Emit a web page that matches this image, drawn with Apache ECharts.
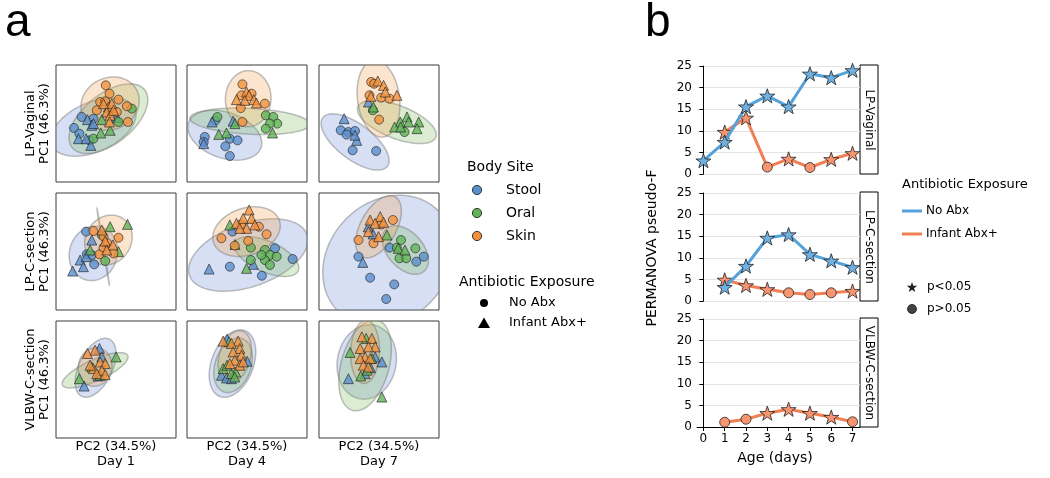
<!DOCTYPE html>
<html><head><meta charset="utf-8">
<script src="https://cdn.jsdelivr.net/npm/echarts@6/dist/echarts.min.js"></script>
<style>html,body{margin:0;padding:0;background:#fff}#c{width:1050px;height:478px}</style>
</head><body><div id="c"></div>
<script>
// ---------- labels ----------
const rowNames = ['LP-Vaginal', 'LP-C-section', 'VLBW-C-section'];
const dayLabels = ['Day 1', 'Day 4', 'Day 7'];
const pcX = 'PC2 (34.5%)';
const pcY = 'PC1 (46.3%)';
const siteNames = ['Stool', 'Oral', 'Skin'];
const abxNames = ['No Abx', 'Infant Abx+'];
const sigNames = ['p<0.05', 'p>0.05'];

// ---------- panel a: PCoA points [PC2, PC1, site(0 stool,1 oral,2 skin), abx(0 none,1 infant abx)] ----------
const LPV_D1 = [
 [-2.86,0.56,0,0],[-3.5,-0.38,0,0],[-3.05,-0.87,0,0],[-1.88,0.41,0,0],[-2.21,-1.44,0,0],
 [-2.38,0.33,0,1],[-2.02,-0.16,0,1],[-3.13,-1.3,0,1],[-2.49,-1.3,0,1],[-2.1,-1.87,0,1],[-1.88,0.0,0,1],[0.07,0.5,0,1],
 [1.32,1.27,1,0],[0.21,0.13,1,0],[-1.88,-1.3,1,0],
 [-1.18,0.33,1,1],[-0.49,-0.58,1,1],[-1.27,-0.81,1,1],
 [-0.85,3.26,2,0],[-0.54,2.55,2,0],[0.21,2.04,2,0],[-1.32,1.84,2,0],[0.91,1.47,2,0],[-1.6,1.13,2,0],[0.99,0.13,2,0],[-0.9,1.9,2,0],[0.07,0.98,2,0],
 [-0.63,1.41,2,1],[-0.35,1.7,2,1],[-0.77,0.98,2,1],[-0.49,0.7,2,1],[-0.54,0.13,2,1],[-0.21,1.13,2,1],[-1.04,1.7,2,1]
];
const LPV_D4 = [
 [-2.63,0.27,0,0],[-3.52,-1.15,0,0],[-3.61,-1.58,0,0],[-1.43,-1.3,0,0],[-0.79,-1.44,0,0],[-1.8,-1.95,0,0],[-1.43,-2.78,0,0],
 [-2.91,0.13,0,1],[-3.61,-1.72,0,1],[-1.16,0.2,0,1],
 [-2.47,0.56,1,0],[1.57,0.7,1,0],[2.19,0.56,1,0],[2.52,-0.01,1,0],[1.91,-0.01,1,0],[1.57,-0.44,1,0],
 [2.13,-0.81,1,1],[-1.71,-0.81,1,1],[-2.35,-0.93,1,1],[-1.0,-0.01,1,1],
 [-0.38,3.35,2,0],[-0.46,2.41,2,0],[1.49,1.7,2,0],[-0.52,1.32,2,0],[-0.38,0.13,2,0],[0.38,2.55,2,0],
 [-0.04,2.69,2,1],[0.18,2.41,2,1],[0.57,2.04,2,1],[-0.18,1.98,2,1],[0.79,1.75,2,1],[-0.88,2.04,2,1]
];
const LPV_D7 = [
 [-3.19,-0.58,0,0],[-2.55,-0.73,0,0],[-2.0,-0.64,0,0],[-2.2,-2.29,0,0],[-0.24,-2.35,0,0],[-2.7,-0.95,0,0],
 [-2.91,0.41,0,1],[-1.86,-1.44,0,1],[-2.0,-1.0,0,1],[-0.88,1.84,0,1],
 [-0.51,1.13,1,0],[2.13,-0.73,1,0],
 [-0.46,1.41,1,1],[2.33,0.56,1,1],[2.47,0.13,1,1],[1.77,0.13,1,1],[1.3,-0.3,1,1],[3.31,0.13,1,1],[3.17,-0.44,1,1],[1.8,-0.3,1,1],
 [-0.65,3.55,2,0],[-0.79,2.41,2,0],[0.18,2.21,2,0],[0.88,2.12,2,0],[0.01,0.33,2,0],[-0.4,3.4,2,0],
 [-0.1,3.63,2,1],[0.38,3.26,2,1],[0.52,2.69,2,1],[1.49,2.41,2,1],[-0.68,2.32,2,1]
];
const LPC_D1 = [
 [-2.49,1.7,0,0],[-2.44,-0.24,0,0],[-1.82,-1.1,0,0],[-2.02,-0.3,0,0],
 [-2.02,0.98,0,1],[-2.99,-0.73,0,1],[-2.72,-1.3,0,1],[-3.61,-1.67,0,1],[-2.49,-0.44,0,1],
 [-0.9,-0.81,1,0],[-1.18,1.41,1,0],
 [0.96,2.32,1,1],[-0.49,2.12,1,1],[0.21,-0.01,1,1],[-2.16,0.13,1,1],
 [0.21,1.18,2,0],[-1.88,1.75,2,0],[-1.04,1.27,2,0],[-1.38,-0.24,2,0],[-0.21,-0.16,2,0],[-1.04,0.33,2,0],[-0.71,0.7,2,0],
 [-1.18,1.84,2,1],[-0.9,0.9,2,1],[-0.26,0.56,2,1],[-0.77,0.13,2,1]
];
const LPC_D4 = [
 [-1.21,1.7,0,0],[2.33,0.27,0,0],[3.8,-0.64,0,0],[-1.43,-1.3,0,0],[1.24,-2.07,0,0],
 [-3.16,-1.5,0,1],[0.52,-1.1,0,1],
 [0.32,0.33,1,0],[1.49,0.13,1,0],[1.91,-0.3,1,0],[2.47,-0.44,1,0],[1.49,-0.73,1,0],[1.91,-1.15,1,0],[0.32,-0.73,1,0],[1.2,-0.3,1,0],
 [-1.43,2.27,1,1],[-0.04,-1.44,1,1],[-1.0,0.6,1,1],
 [-2.13,1.13,2,0],[0.99,2.12,2,0],[1.63,1.47,2,0],[0.1,0.9,2,0],[-1.02,0.5,2,0],[-0.5,2.3,2,0],
 [0.18,3.55,2,1],[-0.32,2.83,2,1],[0.38,2.83,2,1],[-0.88,2.41,2,1],[-0.04,1.98,2,1],[0.65,2.27,2,1],[-0.6,1.98,2,1]
];
const LPC_D7 = [
 [-1.71,-0.44,0,0],[-0.74,-2.24,0,0],[1.27,-2.81,0,0],[0.6,-4.06,0,0],[3.11,-0.87,0,0],[3.73,-0.44,0,0],[0.88,0.33,0,0],
 [-1.35,-0.93,0,1],[-0.5,1.5,0,1],[-0.9,2.1,0,1],
 [1.83,0.98,1,0],[3.03,0.27,1,0],[1.71,-0.58,1,0],[2.27,-0.58,1,0],[1.49,0.33,1,0],
 [0.66,1.41,1,1],[1.6,0.27,1,1],[2.16,0.13,1,1],
 [-1.71,0.98,2,0],[-0.46,0.7,2,0],[1.16,2.69,2,0],[0.2,2.3,2,0],
 [-0.74,2.69,2,1],[0.1,2.98,2,1],[-0.32,2.41,2,1],[0.38,2.5,2,1],[-0.88,1.7,2,1],[-0.04,1.27,2,1]
];
const VLBW_D1 = [
 [-1.38,2.65,0,1],[-1.18,1.93,0,1],[-2.66,-0.56,0,1],[-1.5,0.3,0,1],
 [0.01,1.93,1,1],[-3.05,0.07,1,1],[-2.02,1.07,1,1],[-1.32,0.36,1,1],
 [-2.38,2.22,2,1],[-1.74,2.51,2,1],[-1.32,1.5,2,1],[-0.9,1.36,2,1],[-1.88,0.93,2,1],[-1.18,0.79,2,1],[-1.6,0.5,2,1],[-0.9,0.42,2,1],[-2.16,1.22,2,1]
];
const VLBW_D4 = [
 [-1.66,3.45,0,1],[0.01,1.56,0,1],[-2.13,0.36,0,1],[-1.71,0.13,0,1],[-1.3,0.07,0,1],
 [-1.49,3.22,1,1],[-1.99,0.93,1,1],[-0.94,0.64,1,1],[-1.3,0.5,1,1],[-1.66,1.22,1,1],[-1.02,0.21,1,1],
 [-1.99,3.28,2,1],[-0.74,3.28,2,1],[-1.3,3.08,2,1],[-0.6,2.65,2,1],[-1.16,2.36,2,1],[-0.46,2.08,2,1],[-1.02,1.65,2,1],[-0.6,1.22,2,1],[-1.43,1.36,2,1],[-0.32,1.5,2,1]
];
const VLBW_D7 = [
 [-2.55,0.07,0,1],[0.24,1.5,0,1],[-1.16,0.5,0,1],[-0.32,1.93,0,1],[-0.7,1.0,0,1],
 [-2.41,2.31,1,1],[-1.07,3.51,1,1],[0.24,-1.5,1,1],[-1.52,0.3,1,1],[-0.6,1.79,1,1],[-1.0,0.8,1,1],
 [-1.43,3.65,2,1],[-0.6,3.51,2,1],[-0.32,2.79,2,1],[-1.57,2.65,2,1],[-0.88,2.79,2,1],[-1.16,1.93,2,1],[-1.57,1.79,2,1],[-0.74,1.79,2,1],[-1.3,1.22,2,1],[-0.88,1.07,2,1]
];

// confidence ellipses [site, centreX, centreY, semiMajor, semiMinor, angleDeg]
const ELL_LPV_D1 = [[0,-1.88,-0.3,3.8,2.1,25],[1,-0.63,0.41,3.9,2.1,40],[2,-0.49,1.7,2.5,2.2,30]];
const ELL_LPV_D4 = [[0,-1.85,-1.0,3.2,1.95,-20],[1,0.24,0.19,5.0,1.1,-3],[2,0.1,2.12,2.4,1.9,88]];
const ELL_LPV_D7 = [[0,-1.99,-1.58,3.4,1.5,-38],[1,1.49,0.13,3.5,1.4,-22],[2,-0.04,2.12,3.3,1.75,97]];
const ELL_LPC_D1 = [[0,-1.88,-0.16,2.35,2.0,75],[1,-1.07,0.41,3.3,0.04,99],[2,-0.63,0.98,2.2,1.9,60]];
const ELL_LPC_D4 = [[0,0.1,-0.3,5.2,2.7,20],[1,1.63,-0.44,2.9,1.3,-25],[2,-0.04,1.7,2.9,2.0,20]];
const ELL_LPC_D7 = [[0,0.75,-0.8,6.0,5.0,50],[1,2.19,0.13,2.4,1.5,-50],[2,-0.04,2.12,2.9,1.5,62]];
const ELL_VLBW_D1 = [[0,-1.7,1.0,2.7,1.4,65],[1,-1.74,0.79,3.0,0.9,25],[2,-1.74,1.07,1.65,1.4,80]];
const ELL_VLBW_D4 = [[0,-1.21,1.36,3.0,1.75,70],[1,-1.16,1.22,2.4,1.5,72],[2,-1.02,1.93,2.3,1.3,75]];
const ELL_VLBW_D7 = [[0,-1.02,1.5,3.2,2.45,80],[1,-1.16,1.22,4.0,2.0,75],[2,-1.16,2.36,2.7,1.2,88]];

// ---------- panel b: PERMANOVA pseudo-F ----------
const days = [0, 1, 2, 3, 4, 5, 6, 7];
const vagNoAbx    = [3.1, 7.4, 15.6, 18.1, 15.6, 23.2, 22.3, 24.0];
const vagNoAbxSig = [1, 1, 1, 1, 1, 1, 1, 1];
const vagAbx      = [null, 9.7, 13.0, 1.6, 3.5, 1.5, 3.4, 4.8];
const vagAbxSig   = [0, 1, 1, 0, 1, 0, 1, 1];
const csNoAbx     = [null, 3.2, 8.1, 14.6, 15.4, 10.8, 9.3, 7.8];
const csNoAbxSig  = [0, 1, 1, 1, 1, 1, 1, 1];
const csAbx       = [null, 4.9, 3.6, 2.7, 1.9, 1.5, 1.9, 2.3];
const csAbxSig    = [0, 1, 1, 1, 0, 0, 0, 1];
const vlbwAbx     = [null, 1.1, 1.8, 3.2, 4.1, 3.2, 2.3, 1.2];
const vlbwAbxSig  = [0, 0, 0, 1, 1, 1, 1, 0];

// ---------- styles ----------
const FONT = 'DejaVu Sans';
const siteColors = ['#5a8fcd', '#62b357', '#f2913d'];
const ellFill = ['rgba(120,150,215,0.30)', 'rgba(110,180,80,0.25)', 'rgba(245,160,80,0.28)'];
const blueLine = '#55a1d9', blueMark = '#6fb2e2', orangeLine = '#f07f55', orangeMark = '#f6956f';
const STAR = 'path://M50,0 L61.8,35.1 L98.1,35.1 L68.8,56.7 L79.4,91.0 L50,70 L20.6,91.0 L31.2,56.7 L1.9,35.1 L38.2,35.1 Z';

const panelsPts = [LPV_D1, LPV_D4, LPV_D7, LPC_D1, LPC_D4, LPC_D7, VLBW_D1, VLBW_D4, VLBW_D7];
const panelsEll = [ELL_LPV_D1, ELL_LPV_D4, ELL_LPV_D7, ELL_LPC_D1, ELL_LPC_D4, ELL_LPC_D7, ELL_VLBW_D1, ELL_VLBW_D4, ELL_VLBW_D7];

const aLeft = [56, 187, 319], aTop = [65, 193, 321], aW = 120, aH = 117;
const bLeft = 697, bW = 163, bTop = [66, 193, 319], bH = 108;

const grids = [], xAxes = [], yAxes = [], series = [], graphics = [];
const txt = (x, y, text, size, opts) => Object.assign({ type: 'text', x, y, silent: true,
  style: { text, font: size + 'px "' + FONT + '"', fill: '#000', align: (opts && opts.align) || 'center', verticalAlign: 'middle' } },
  opts && opts.rotation != null ? { rotation: opts.rotation } : {});

function ellipseRender(params, api) {
  const s = api.value(0), cx = api.value(1), cy = api.value(2), a = api.value(3), b = api.value(4);
  const ang = api.value(5) * Math.PI / 180;
  const pts = [];
  for (let k = 0; k < 90; k++) {
    const t = k / 90 * 2 * Math.PI;
    const x = cx + a * Math.cos(t) * Math.cos(ang) - b * Math.sin(t) * Math.sin(ang);
    const y = cy + a * Math.cos(t) * Math.sin(ang) + b * Math.sin(t) * Math.cos(ang);
    pts.push(api.coord([x, y]));
  }
  return { type: 'polygon', shape: { points: pts },
    style: { fill: ellFill[s], stroke: 'rgba(115,115,115,0.45)', lineWidth: 1.5 } };
}

for (let r = 0; r < 3; r++) for (let c = 0; c < 3; c++) {
  const i = r * 3 + c;
  grids.push({ left: aLeft[c], top: aTop[r], width: aW, height: aH, show: true,
    borderColor: '#3a3a3a', borderWidth: 1, backgroundColor: 'rgba(0,0,0,0)' });
  xAxes.push({ gridIndex: i, type: 'value', min: -5, max: 5, show: false });
  yAxes.push({ gridIndex: i, type: 'value', min: -5, max: 5, show: false });
  series.push({ type: 'custom', xAxisIndex: i, yAxisIndex: i, clip: true, silent: true, z: 1,
    renderItem: ellipseRender, encode: { x: 1, y: 2 }, data: panelsEll[i] });
  series.push({ type: 'scatter', xAxisIndex: i, yAxisIndex: i, z: 3, silent: true,
    data: panelsPts[i].map(p => ({ value: [p[0], p[1]], symbol: p[3] ? 'triangle' : 'circle',
      symbolSize: p[3] ? 10 : 9,
      itemStyle: { color: siteColors[p[2]], borderColor: '#222', borderWidth: 0.8 } })) });
}

// panel a axis titles
for (let c = 0; c < 3; c++) {
  const cx = aLeft[c] + aW / 2;
  graphics.push(txt(cx, 447, pcX, 13));
  graphics.push(txt(cx, 462, dayLabels[c], 13));
}
for (let r = 0; r < 3; r++) {
  const cy = aTop[r] + aH / 2;
  graphics.push(txt(31, cy, rowNames[r], 13, { rotation: Math.PI / 2 }));
  graphics.push(txt(45, cy, pcY, 13, { rotation: Math.PI / 2 }));
}

// panel a legend
graphics.push(txt(467, 167, 'Body Site', 14, { align: 'left' }));
[190, 213, 236].forEach((yy, k) => {
  graphics.push({ type: 'circle', shape: { cx: 477, cy: yy, r: 4.6 }, style: { fill: siteColors[k], stroke: '#222', lineWidth: 0.9 } });
  graphics.push(txt(506, yy, siteNames[k], 14, { align: 'left' }));
});
graphics.push(txt(459, 282, 'Antibiotic Exposure', 14, { align: 'left' }));
graphics.push({ type: 'circle', shape: { cx: 484, cy: 303, r: 4 }, style: { fill: '#000' } });
graphics.push({ type: 'polygon', shape: { points: [[484, 317.5], [490, 328], [478, 328]] }, style: { fill: '#000' } });
graphics.push(txt(509, 303, abxNames[0], 13, { align: 'left' }));
graphics.push(txt(509, 323, abxNames[1], 13, { align: 'left' }));

// panel b
function lineSeries(gi, vals, sig, lc, mc, z) {
  const data = [];
  days.forEach((d, k) => {
    if (vals[k] == null) return;
    data.push({ value: [d, vals[k]], symbol: sig[k] ? STAR : 'circle', symbolSize: sig[k] ? 15 : 10 });
  });
  return { type: 'line', xAxisIndex: gi, yAxisIndex: gi, data, z, silent: true, symbolKeepAspect: true,
    lineStyle: { color: lc, width: 3 },
    itemStyle: { color: mc, borderColor: '#222', borderWidth: 0.8 } };
}
for (let k = 0; k < 3; k++) {
  const gi = 9 + k;
  grids.push({ left: bLeft, top: bTop[k], width: bW, height: bH });
  xAxes.push({ gridIndex: gi, type: 'value', min: -0.3, max: 7.35,
    axisLine: { show: k === 2, onZero: false, lineStyle: { color: '#000', width: 1 } },
    axisTick: { show: k === 2, customValues: days, length: 4, lineStyle: { color: '#000' } },
    axisLabel: { show: k === 2, customValues: days, fontSize: 12, fontFamily: FONT, color: '#000', margin: 6 },
    splitLine: { show: false } });
  yAxes.push({ gridIndex: gi, type: 'value', min: 0, max: 25, interval: 5,
    axisLine: { show: true, lineStyle: { color: '#000', width: 1 } },
    axisTick: { show: true, length: 4, lineStyle: { color: '#000' } },
    axisLabel: { fontSize: 12, fontFamily: FONT, color: '#000', margin: 5 },
    splitLine: { show: true, lineStyle: { color: '#e4e4e4', width: 1 } } });
  graphics.push({ type: 'rect', shape: { x: 860, y: bTop[k] - 1, width: 18, height: bH + 1 }, style: { fill: '#fff', stroke: '#000', lineWidth: 1 } });
  graphics.push(txt(869, bTop[k] + bH / 2, rowNames[k], 12, { rotation: -Math.PI / 2 }));
}
series.push(lineSeries(9, vagAbx, vagAbxSig, orangeLine, orangeMark, 3));
series.push(lineSeries(9, vagNoAbx, vagNoAbxSig, blueLine, blueMark, 4));
series.push(lineSeries(10, csAbx, csAbxSig, orangeLine, orangeMark, 3));
series.push(lineSeries(10, csNoAbx, csNoAbxSig, blueLine, blueMark, 4));
series.push(lineSeries(11, vlbwAbx, vlbwAbxSig, orangeLine, orangeMark, 3));

graphics.push(txt(652, 248, 'PERMANOVA pseudo-F', 14, { rotation: Math.PI / 2 }));
graphics.push(txt(775, 458, 'Age (days)', 14));

// panel b legend
graphics.push(txt(902, 185, 'Antibiotic Exposure', 13, { align: 'left' }));
graphics.push({ type: 'line', shape: { x1: 902, y1: 211, x2: 922, y2: 211 }, style: { stroke: blueLine, lineWidth: 3 } });
graphics.push({ type: 'line', shape: { x1: 902, y1: 234, x2: 922, y2: 234 }, style: { stroke: orangeLine, lineWidth: 3 } });
graphics.push(txt(926, 211, abxNames[0], 12, { align: 'left' }));
graphics.push(txt(926, 234, abxNames[1], 12, { align: 'left' }));
const starPts = [];
for (let k = 0; k < 10; k++) {
  const rr = k % 2 ? 2.2 : 5.5, th = -Math.PI / 2 + k * Math.PI / 5;
  starPts.push([912 + rr * Math.cos(th), 287.5 + rr * Math.sin(th)]);
}
graphics.push({ type: 'polygon', shape: { points: starPts }, style: { fill: '#222' } });
graphics.push({ type: 'circle', shape: { cx: 912, cy: 309, r: 4.5 }, style: { fill: '#444', stroke: '#111', lineWidth: 0.8 } });
graphics.push(txt(927, 287, sigNames[0], 12, { align: 'left' }));
graphics.push(txt(927, 309, sigNames[1], 12, { align: 'left' }));

// panel letters
graphics.push({ type: 'text', x: 5, y: 46, style: { text: 'a', font: '46px "Liberation Sans"', fill: '#000', align: 'left', verticalAlign: 'bottom' } });
graphics.push({ type: 'text', x: 645, y: 46, style: { text: 'b', font: '46px "Liberation Sans"', fill: '#000', align: 'left', verticalAlign: 'bottom' } });

const chart = echarts.init(document.getElementById('c'), null, { renderer: 'canvas' });
chart.setOption({ animation: false, backgroundColor: '#fff', grid: grids, xAxis: xAxes, yAxis: yAxes, series, graphic: { elements: graphics } });
</script></body></html>
